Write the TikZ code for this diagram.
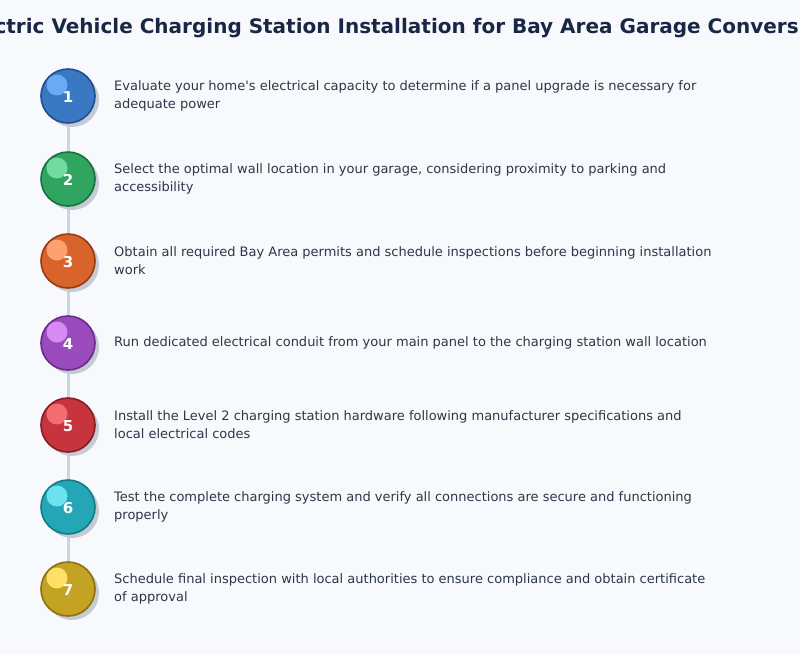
\documentclass[tikz,border=0pt]{standalone}
\usepackage{fontspec}
\setmainfont{DejaVu Sans}
\definecolor{bg}{HTML}{F7F9FC}
\definecolor{titlec}{HTML}{1A2744}
\definecolor{txt}{HTML}{2D3748}
\definecolor{linec}{HTML}{CBD5E0}
\definecolor{shad}{HTML}{C4CAD6}
\definecolor{f1}{HTML}{3A78C4}\definecolor{b1}{HTML}{1F4E8F}\definecolor{h1}{HTML}{6AAAF2}
\definecolor{f2}{HTML}{30A560}\definecolor{b2}{HTML}{1A7040}\definecolor{h2}{HTML}{72DC9E}
\definecolor{f3}{HTML}{D8642C}\definecolor{b3}{HTML}{9A3A10}\definecolor{h3}{HTML}{FFA070}
\definecolor{f4}{HTML}{9A4CBE}\definecolor{b4}{HTML}{6A2A8A}\definecolor{h4}{HTML}{D88AF4}
\definecolor{f5}{HTML}{C6343E}\definecolor{b5}{HTML}{8A1A20}\definecolor{h5}{HTML}{F26C72}
\definecolor{f6}{HTML}{24A6B6}\definecolor{b6}{HTML}{157A88}\definecolor{h6}{HTML}{6CE2F0}
\definecolor{f7}{HTML}{C4A222}\definecolor{b7}{HTML}{8A7010}\definecolor{h7}{HTML}{FFE066}
\tikzset{
  stepcirc/.style={circle, minimum size=54pt, inner sep=0pt, line width=1.6pt},
  shadowc/.style={circle, minimum size=54pt, inner sep=0pt, fill=shad},
  hilite/.style={circle, minimum size=21pt, inner sep=0pt},
  numtxt/.style={text=white, font=\fontsize{15}{18}\selectfont\bfseries},
  desc/.style={anchor=west, align=left, text=txt, font=\fontsize{13}{18}\selectfont, inner sep=0pt},
  conn/.style={draw=linec, line width=3pt},
}
\begin{document}
\begin{tikzpicture}[x=1pt,y=-1pt]
\fill[bg] (0,0) rectangle (800,654);
\useasboundingbox (0,0) rectangle (800,654);
\clip (0,0) rectangle (800,654);
\node[text=titlec, font=\fontsize{20}{24}\selectfont\bfseries] (title) at (397,28) {Electric Vehicle Charging Station Installation for Bay Area Garage Conversion};
% connectors
\foreach \i/\y in {1/96,2/179,3/261,4/343,5/425,6/507,7/589}{
  \coordinate (c\i) at (68,\y);
}
\foreach \a/\b in {1/2,2/3,3/4,4/5,5/6,6/7}{
  \draw[conn] (c\a) -- (c\b);
}
\foreach \i/\y/\t in {
 1/96/{Evaluate your home\textquotesingle s electrical capacity to determine if a panel upgrade is necessary for\\adequate power},
 2/179/{Select the optimal wall location in your garage, considering proximity to parking and\\accessibility},
 3/261/{Obtain all required Bay Area permits and schedule inspections before beginning installation\\work},
 4/343/{Run dedicated electrical conduit from your main panel to the charging station wall location},
 5/425/{Install the Level 2 charging station hardware following manufacturer specifications and\\local electrical codes},
 6/507/{Test the complete charging system and verify all connections are secure and functioning\\properly},
 7/589/{Schedule final inspection with local authorities to ensure compliance and obtain certificate\\of approval}}{
  \node[shadowc] (s\i) at (72,\y+4) {};
  \node[stepcirc, fill=f\i, draw=b\i] (n\i) at (68,\y) {};
  \node[hilite, fill=h\i] (h\i) at (57,\y-11) {};
  \node[numtxt] (t\i) at (68,\y+1) {\i};
  \node[desc] (d\i) at (114,\y) {\t};
}
\end{tikzpicture}
\end{document}
